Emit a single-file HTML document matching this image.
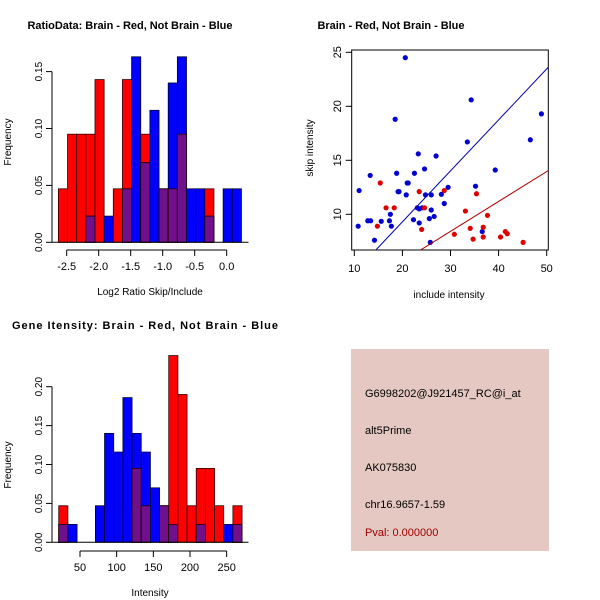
<!DOCTYPE html>
<html><head><meta charset="utf-8">
<style>
html,body{margin:0;padding:0;background:#fff;}
svg{display:block;font-family:"Liberation Sans",Arial,sans-serif;}
.t{font-weight:bold;font-size:11px;}
.l{font-size:11px;}
.s{font-size:10px;}
</style></head>
<body>
<svg id="c" width="600" height="600" viewBox="0 0 600 600">
<rect width="600" height="600" fill="#fff"/>
<text class="t" x="130" y="29" text-anchor="middle" textLength="205">RatioData: Brain - Red, Not Brain - Blue</text>
<text class="t" x="391" y="29" text-anchor="middle" textLength="147">Brain - Red, Not Brain - Blue</text>
<text class="t" x="145" y="329" text-anchor="middle" textLength="266">Gene Itensity: Brain - Red, Not Brain - Blue</text>
<g id="p1"></g>
<g id="p2"></g>
<g id="p3"></g>
<g>
<rect x="351" y="349" width="198" height="202" fill="#e5c8c2"/>
<text class="l" x="365" y="397">G6998202@J921457_RC@i_at</text>
<text class="l" x="365" y="434">alt5Prime</text>
<text class="l" x="365" y="471">AK075830</text>
<text class="l" x="365" y="508">chr16.9657-1.59</text>
<text class="l" x="365" y="536" fill="#a00000">Pval: 0.000000</text>
</g>
</svg>
<script>
const ratioRed=[0.047,0.095,0.095,0.095,0.143,0,0.047,0.143,0,0.095,0,0.047,0.047,0.095,0,0,0.047,0,0,0];
const ratioBlue=[0,0,0,0.023,0,0.023,0,0.047,0.163,0.07,0.116,0.047,0.14,0.163,0.047,0.047,0.023,0,0.047,0.047];
const ratioStart=-2.63, ratioWidth=0.143;
const ratioXTicks=[-2.5,-2.0,-1.5,-1.0,-0.5,0.0];
const ratioXLabels=["-2.5","-2.0","-1.5","-1.0","-0.5","0.0"];
const ratioYTicks=[0,0.05,0.10,0.15];
const intRed=[0.047,0,0,0,0,0,0,0,0.095,0.047,0,0.047,0.24,0.19,0.047,0.095,0.095,0.047,0,0.047];
const intBlue=[0.023,0.023,0,0,0.047,0.14,0.116,0.186,0.14,0.116,0.07,0.047,0.023,0,0,0.023,0,0,0.023,0.023];
const intStart=21, intWidth=12.5;
const intXTicks=[50,100,150,200,250];
const intXLabels=["50","100","150","200","250"];
const intYTicks=[0,0.05,0.10,0.15,0.20];
const brainX=[15.4,14.8,16.6,18.3,23.5,24.0,24.6,28.7,30.8,33.1,34.1,34.7,35.4,36.8,36.8,37.7,40.4,41.4,41.8,45.1];
const brainY=[12.9,8.9,10.6,10.6,12.1,8.6,10.6,12.2,8.15,10.3,8.7,7.7,11.9,8.8,7.9,9.9,7.9,8.4,8.2,7.4];
const notX=[11.0,10.8,20.6,18.5,13.3,12.8,13.4,14.2,15.6,17.3,17.5,17.7,18.8,19.1,19.3,20.8,21.0,21.2,22.5,22.3,23.3,24.6,23.1,23.5,24.1,23.5,24.8,25.6,26.0,26.0,25.8,26.6,27.0,28.1,28.7,29.5,33.5,34.3,35.2,36.6,39.3,46.6,48.9];
const notY=[12.2,8.9,24.5,18.8,13.6,9.4,9.4,7.6,9.35,9.4,10.0,8.9,13.8,12.1,12.1,11.8,12.9,12.9,13.8,9.5,15.6,14.2,10.6,10.5,10.6,9.2,11.8,9.6,10.4,11.8,7.4,9.8,15.4,11.85,11.0,12.5,16.7,20.6,12.6,8.4,14.1,16.9,19.3];
const blueFit=[-0.14,0.472];
const redFit=[0.11,0.277];
const scXTicks=[10,20,30,40,50];
const scYTicks=[10,15,20,25];

const NS="http://www.w3.org/2000/svg";
function mk(parent,tag,attrs,text){const e=document.createElementNS(NS,tag);for(const k in attrs)e.setAttribute(k,attrs[k]);if(text!==undefined)e.textContent=text;parent.appendChild(e);return e;}

function hist(g,red,blue,start,width,xTicks,xLabels,yTicks,xs,ys,x0,y0,xAxisY,xLabel,yLabelY){
  const X=v=>x0+(v-xs[0])*xs[1];
  const Y=v=>y0-v*ys;
  for(let i=0;i<red.length;i++){
    const a=X(start+i*width),b=X(start+(i+1)*width);
    const r=red[i],bl=blue[i],m=Math.min(r,bl);
    if(r>0){const e=mk(g,'rect',{x:a,y:Y(r),width:b-a,height:Y(0)-Y(r),fill:'#ff0000',stroke:'#300','stroke-width':0.8});
      
      }
    if(bl>0){const e=mk(g,'rect',{x:a,y:Y(bl),width:b-a,height:Y(0)-Y(bl),fill:'#0000ff',stroke:'#003','stroke-width':0.8});
      
      }
    if(m>0){const e=mk(g,'rect',{x:a,y:Y(m),width:b-a,height:Y(0)-Y(m),fill:'#70108a',stroke:'#200','stroke-width':0.8});
      
      }
  }
  const yx=52;
  mk(g,'line',{x1:yx,y1:Y(0),x2:248.5,y2:Y(0),stroke:'#000'});
  const ya=mk(g,'g',{});
  
  
  mk(ya,'line',{x1:yx,y1:Y(yTicks[0]),x2:yx,y2:Y(yTicks[yTicks.length-1]),stroke:'#000'});
  yTicks.forEach(t=>{mk(ya,'line',{x1:yx,y1:Y(t),x2:yx-6,y2:Y(t),stroke:'#000'});
    mk(ya,'text',{class:'s',x:0,y:0,'text-anchor':'middle',transform:`translate(${yx-10},${Y(t)}) rotate(-90)`},t.toFixed(2));});
  const xa=mk(g,'g',{});
  
  
  mk(xa,'line',{x1:X(xTicks[0]),y1:xAxisY,x2:X(xTicks[xTicks.length-1]),y2:xAxisY,stroke:'#000'});
  xTicks.forEach((t,i)=>{mk(xa,'line',{x1:X(t),y1:xAxisY,x2:X(t),y2:xAxisY+6,stroke:'#000'});
    mk(xa,'text',{class:'l',x:X(t),y:xAxisY+20,'text-anchor':'middle'},xLabels[i]);});
  const xl=mk(g,'text',{class:'s',x:150,y:xAxisY+45,'text-anchor':'middle'},xLabel);
  
  
  const yl=mk(g,'text',{class:'s',x:0,y:0,'text-anchor':'middle',transform:`translate(11,${yLabelY}) rotate(-90)`},'Frequency');
  
  
}
hist(document.getElementById('p1'),ratioRed,ratioBlue,ratioStart,ratioWidth,ratioXTicks,ratioXLabels,ratioYTicks,[-2.5,64],56.9/0.05,66.7,242.3,250,'Log2 Ratio Skip/Include',142);
hist(document.getElementById('p3'),intRed,intBlue,intStart,intWidth,intXTicks,intXLabels,intYTicks,[50,0.7333],38.9/0.05,80,542.3,551,'Intensity',465);
(function(){
  const g=document.getElementById('p2');
  const X=v=>354.3+(v-10)*4.81;
  const Y=v=>214.3-(v-10)*10.8;
  mk(g,'rect',{x:351.7,y:50,width:196.6,height:200,fill:'none',stroke:'#000'});
  for(let i=0;i<notX.length;i++){const c=mk(g,'circle',{cx:X(notX[i]),cy:Y(notY[i]),r:2.6,fill:'#0000d0'});
    
    }
  for(let i=0;i<brainX.length;i++){const c=mk(g,'circle',{cx:X(brainX[i]),cy:Y(brainY[i]),r:2.6,fill:'#e00000'});
    
    }
  const clip=mk(g,'clipPath',{id:'cp'});mk(clip,'rect',{x:351.7,y:50,width:196.6,height:200});
  const lg=mk(g,'g',{'clip-path':'url(#cp)'});
  const xa0=5,xa1=52;
  const bl=mk(lg,'line',{x1:X(xa0),y1:Y(blueFit[0]+blueFit[1]*xa0),x2:X(xa1),y2:Y(blueFit[0]+blueFit[1]*xa1),stroke:'#0000b0'});
  
  
  const rl=mk(lg,'line',{x1:X(xa0),y1:Y(redFit[0]+redFit[1]*xa0),x2:X(xa1),y2:Y(redFit[0]+redFit[1]*xa1),stroke:'#b00000'});
  
  
  scXTicks.forEach(t=>{mk(g,'line',{x1:X(t),y1:250,x2:X(t),y2:256,stroke:'#000'});mk(g,'text',{class:'l',x:X(t),y:272,'text-anchor':'middle'},String(t));});
  scYTicks.forEach(t=>{mk(g,'line',{x1:351.7,y1:Y(t),x2:345.7,y2:Y(t),stroke:'#000'});mk(g,'text',{class:'l',x:0,y:0,'text-anchor':'middle',transform:`translate(341,${Y(t)}) rotate(-90)`},String(t));});
  const xl=mk(g,'text',{class:'s',x:449,y:298,'text-anchor':'middle'},'include intensity');
  
  
  const yl=mk(g,'text',{class:'s',x:0,y:0,'text-anchor':'middle',transform:'translate(313,148) rotate(-90)'},'skip intensity');
  
  
})();
</script>
</body></html>
